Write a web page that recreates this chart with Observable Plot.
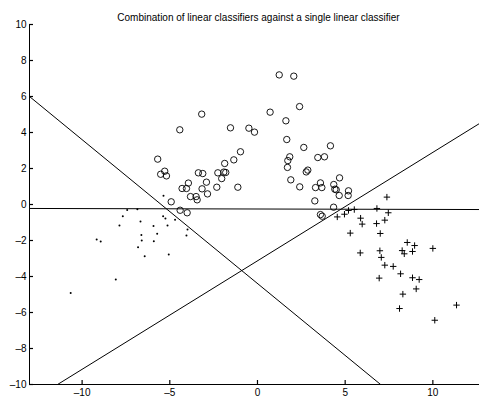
<!DOCTYPE html>
<html>
<head>
<meta charset="utf-8">
<script src="https://cdn.jsdelivr.net/npm/d3@7"></script>
<script src="https://cdn.jsdelivr.net/npm/@observablehq/plot@0.6"></script>
<style>
  html, body { margin: 0; padding: 0; background: #fff; }
  svg { display: block; }
</style>
</head>
<body>
<div id="chart"></div>
<script>
const titleText = "Combination of linear classifiers against a single linear classifier";
const xDomain = [-13, 12.66];
const yDomain = [-10, 10];
const xTicks = [-10, -5, 0, 5, 10];
const yTicks = [-10, -8, -6, -4, -2, 0, 2, 4, 6, 8, 10];

// class 1: circles
const circleX = [1.24, 2.07, -3.18, -4.43, 0.72, 2.40, 1.62, -1.54, -0.49, -0.17, 1.67, 2.64, 4.16, -5.69, -0.97, -1.35, -1.87, 1.84, 1.73, 3.44, 3.82, -5.29, -5.52, -5.19, -3.37, -3.12, -2.26, -1.92, -1.81, -2.04, -2.91, 1.71, 2.78, 2.87, 4.68, 1.90, 3.59, -3.94, -4.30, -4.05, -3.16, -2.32, -1.12, -2.85, -3.82, -3.50, -3.44, -4.92, -4.41, -4.01, 2.41, 3.31, 3.67, 4.35, 4.41, 4.49, 5.19, 5.17, 4.66, 3.27, 4.34, 3.59, 3.69];
const circleY = [7.20, 7.13, 5.02, 4.15, 5.13, 5.44, 4.65, 4.26, 4.24, 4.02, 3.61, 3.17, 3.26, 2.52, 2.93, 2.48, 2.28, 2.65, 2.44, 2.61, 2.65, 1.85, 1.68, 1.59, 1.76, 1.72, 1.76, 1.80, 1.78, 1.44, 1.24, 2.06, 1.81, 1.91, 1.48, 1.37, 1.20, 1.19, 0.89, 0.89, 0.87, 0.96, 0.96, 0.59, 0.44, 0.44, 0.26, 0.15, -0.32, -0.46, 0.98, 0.94, 0.94, 1.11, 0.85, 0.82, 0.76, 0.50, 0.50, 0.20, -0.15, -0.56, -0.65];

// class 2: dots
const dotX = [-5.36, -7.43, -6.85, -7.68, -5.38, -5.25, -4.70, -6.67, -7.87, -5.93, -5.13, -3.99, -5.72, -6.62, -4.05, -9.17, -8.94, -6.60, -5.91, -6.81, -6.43, -5.06, -8.08, -10.65];
const dotY = [0.48, -0.30, -0.26, -0.65, -0.65, -0.78, -0.85, -0.94, -1.17, -1.19, -1.17, -1.39, -1.63, -1.70, -1.72, -1.94, -2.06, -2.00, -2.04, -2.37, -2.87, -2.78, -4.17, -4.91];

// class 3: plus signs
const plusX = [7.38, 4.55, 4.96, 5.19, 5.52, 6.81, 7.46, 5.88, 7.26, 5.97, 6.79, 5.29, 7.00, 8.54, 8.96, 10.00, 5.86, 6.98, 8.25, 8.37, 8.84, 7.06, 7.26, 7.74, 8.16, 6.94, 8.84, 9.22, 9.05, 8.29, 8.10, 11.35, 10.11];
const plusY = [0.41, -0.69, -0.54, -0.33, -0.28, -0.22, -0.46, -0.76, -0.87, -1.09, -1.06, -1.59, -1.61, -2.11, -2.28, -2.44, -2.69, -2.57, -2.56, -2.74, -2.61, -2.94, -3.37, -3.44, -3.85, -4.09, -4.07, -4.17, -4.69, -4.98, -5.78, -5.59, -6.43];

// decision lines (endpoints)
const lineSingleX = [-13, 12.66];
const lineSingleY = [-0.22, -0.28];
const lineDescX = [-13, 7.02];
const lineDescY = [6, -10];
const lineAscX = [-11.4, 12.66];
const lineAscY = [-10, 4.5];

const toPts = (xs, ys) => xs.map((x, i) => ({x, y: ys[i]}));
const circles = toPts(circleX, circleY);
const dots = toPts(dotX, dotY);
const pluses = toPts(plusX, plusY);
const lines = [
  toPts(lineSingleX, lineSingleY),
  toPts(lineDescX, lineDescY),
  toPts(lineAscX, lineAscY)
];

const plusShape = {
  draw(context, size) {
    const r = Math.sqrt(size / Math.PI);
    context.moveTo(-r, 0); context.lineTo(r, 0);
    context.moveTo(0, -r); context.lineTo(0, r);
  }
};

const fmt = d => d < 0 ? "\u2013" + Math.abs(d) : String(d);
const tickLen = 4;

const chart = Plot.plot({
  width: 479,
  height: 403,
  marginLeft: 29,
  marginRight: 0,
  marginTop: 24,
  marginBottom: 19,
  style: {fontFamily: "'Liberation Sans', Arial, Helvetica, sans-serif", fontSize: "10px", background: "#fff", color: "#000"},
  x: {domain: xDomain},
  y: {domain: yDomain},
  marks: [
    ...lines.map(l => Plot.line(l, {x: "x", y: "y", stroke: "#000", strokeWidth: 1, clip: true})),
    Plot.dot(circles, {x: "x", y: "y", r: 3.2, stroke: "#000", strokeWidth: 0.9, fill: "none"}),
    Plot.dot(dots, {x: "x", y: "y", r: 1, fill: "#000", stroke: "none"}),
    Plot.dot(pluses, {x: "x", y: "y", r: 3.2, symbol: plusShape, stroke: "#000", strokeWidth: 1, fill: "none"}),
    // labels
    Plot.axisX({ticks: xTicks, tickSize: 0, tickPadding: 4, tickFormat: fmt, anchor: "bottom", label: null}),
    Plot.axisY({ticks: yTicks, tickSize: 0, tickPadding: 3, tickFormat: fmt, anchor: "left", label: null}),
    // inward ticks
    Plot.ruleX(xTicks, {x: d => d, y1: yDomain[0], y2: yDomain[0], insetTop: -tickLen, stroke: "#000", strokeWidth: 1.2}),
    Plot.ruleY(yTicks, {y: d => d, x1: xDomain[0], x2: xDomain[0], insetRight: -tickLen, stroke: "#000", strokeWidth: 1.2}),
    Plot.ruleX([xDomain[0]], {stroke: "#000", strokeWidth: 1}),
    Plot.ruleY([yDomain[0]], {stroke: "#000", strokeWidth: 1}),
    Plot.text([titleText], {frameAnchor: "top", dy: -11, dx: 4, fontSize: 10, fill: "#000"})
  ]
});
document.getElementById("chart").appendChild(chart);
</script>
</body>
</html>
